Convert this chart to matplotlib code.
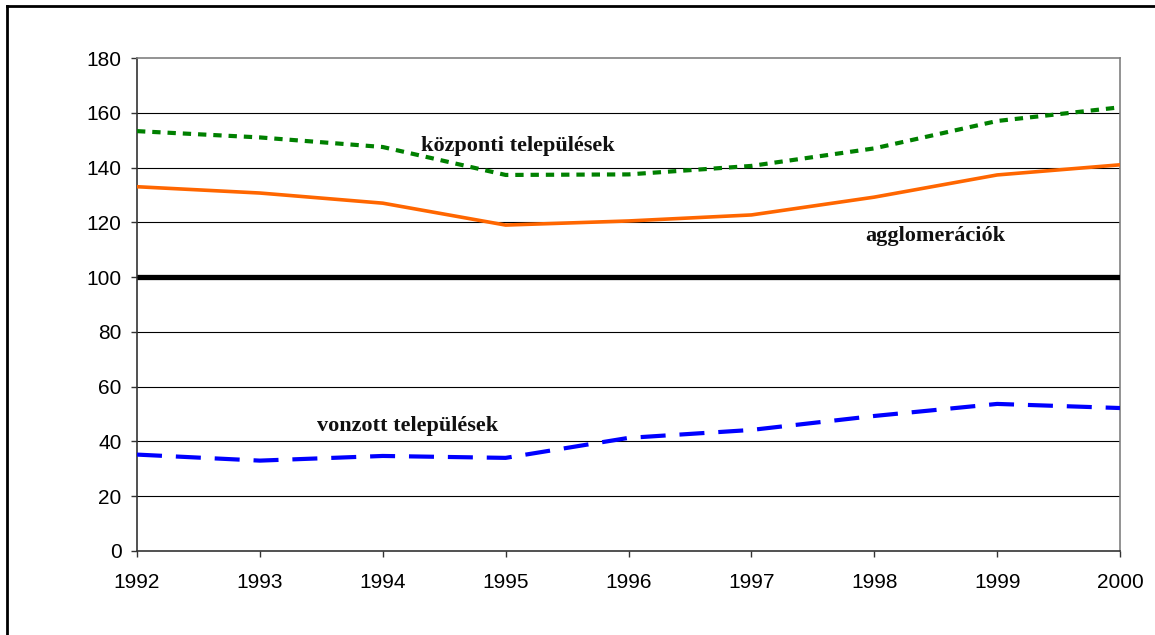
import matplotlib
matplotlib.use("Agg")
import matplotlib.pyplot as plt
from matplotlib.lines import Line2D

years = [1992, 1993, 1994, 1995, 1996, 1997, 1998, 1999, 2000]
kozponti = [153.3, 151.0, 147.5, 137.3, 137.5, 140.6, 147.0, 157.0, 162.0]
agglomeraciok = [133.0, 130.7, 127.0, 119.0, 120.5, 122.7, 129.2, 137.3, 141.0]
vonzott = [35.2, 33.0, 34.7, 34.0, 41.3, 44.2, 49.3, 53.7, 52.2]
baseline = [100] * len(years)
yticks = list(range(0, 181, 20))

plt.rcParams['lines.scale_dashes'] = False

fig = plt.figure(figsize=(11.55, 6.35), dpi=100)
ax = fig.add_axes([137/1155, 1 - 551/635, (1120-137)/1155, (551-58)/635])

for v in yticks[1:-1]:
    ax.axhline(v, color='black', lw=0.8, zorder=1)

ax.plot(years, baseline, color='black', lw=3.8, zorder=3, solid_capstyle='butt')
ax.plot(years, agglomeraciok, color='#FF6600', lw=2.6, zorder=4)
ax.plot(years, kozponti, color='#008000', lw=3.0, zorder=4, dashes=(6, 5))
ax.plot(years, vonzott, color='#0000FF', lw=3.0, zorder=4, dashes=(18, 10))

ax.set_xlim(years[0], years[-1])
ax.set_ylim(0, 180)
ax.set_xticks(years)
ax.set_yticks(yticks)
ax.tick_params(axis='both', labelsize=15, length=4, width=1, color='#333333')
ax.tick_params(axis='x', pad=12)
ax.tick_params(axis='y', pad=7)
for lab in ax.get_xticklabels() + ax.get_yticklabels():
    lab.set_fontfamily('Liberation Sans')
ax.spines['left'].set_color('#333333')
ax.spines['bottom'].set_color('#333333')
ax.spines['top'].set_color('#808080')
ax.spines['right'].set_color('#808080')
for s in ax.spines.values():
    s.set_linewidth(1.2)

tkw = dict(fontfamily='Liberation Serif', fontweight='bold', fontsize=16, color='#111111', zorder=6)
ax.text(1995.1, 148, 'központi települések', ha='center', va='center', **tkw)
ax.text(1998.5, 115, 'agglomerációk', ha='center', va='center', **tkw)
ax.text(1994.2, 45.6, 'vonzott települések', ha='center', va='center', **tkw)

fig.add_artist(Line2D([7/1155, 7/1155], [0, 1 - 6/635], transform=fig.transFigure, color='black', lw=2))
fig.add_artist(Line2D([7/1155, 1], [1 - 6/635, 1 - 6/635], transform=fig.transFigure, color='black', lw=2))

fig.savefig('out.png', dpi=100)
